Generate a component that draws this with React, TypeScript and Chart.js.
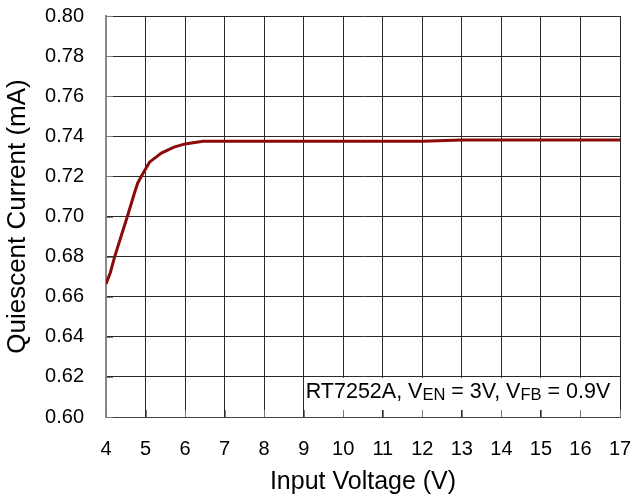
import React, { useEffect, useRef } from "react";
import { Chart, registerables } from "chart.js";

Chart.register(...registerables);

const inputVoltage = [4.0, 4.11, 4.22, 4.37, 4.54, 4.72, 4.8, 4.93, 5.1, 5.4, 5.72, 6.0, 6.45, 7, 8, 9, 10, 11, 12, 13, 14, 15, 16, 17];
const quiescentCurrent = [0.6663, 0.6721, 0.68, 0.6894, 0.7, 0.7117, 0.7166, 0.7213, 0.7271, 0.7316, 0.7346, 0.7362, 0.7375, 0.7375, 0.7375, 0.7375, 0.7375, 0.7375, 0.7375, 0.7381, 0.7381, 0.7381, 0.7381, 0.7381];

const xMin = 4;
const xMax = 17;
const yMin = 0.6;
const yMax = 0.8;
const annotationParts: [string, boolean][] = [
  ["RT7252A, V", false],
  ["EN", true],
  [" = 3V, V", false],
  ["FB", true],
  [" = 0.9V", false],
];

const FONT = "'Liberation Sans', Arial, sans-serif";

const overlayPlugin = {
  id: "overlay",
  beforeDatasetsDraw(chart: any) {
    const { ctx, scales } = chart;
    const xs = scales.x;
    const ys = scales.y;
    ctx.save();
    // white annotation box covering grid
    const bx = xs.getPixelForValue(9) + 1;
    const by = ys.getPixelForValue(0.62) + 1;
    const bx2 = xs.getPixelForValue(17) - 1;
    const by2 = ys.getPixelForValue(0.60) - 7;
    ctx.fillStyle = "#ffffff";
    ctx.fillRect(bx, by, bx2 - bx, by2 - by);
    // inward tick marks
    ctx.strokeStyle = "#7a7a7a";
    ctx.lineWidth = 1;
    ctx.beginPath();
    for (let v = xMin; v <= xMax; v++) {
      const px = Math.round(xs.getPixelForValue(v)) + 0.5;
      ctx.moveTo(px, ys.bottom);
      ctx.lineTo(px, ys.bottom - 7);
    }
    for (let i = 0; i <= 10; i++) {
      const py = Math.round(ys.getPixelForValue(yMin + i * 0.02)) + 0.5;
      ctx.moveTo(xs.left, py);
      ctx.lineTo(xs.left + 7, py);
    }
    ctx.stroke();
    // annotation text
    ctx.fillStyle = "#000";
    ctx.textBaseline = "alphabetic";
    ctx.textAlign = "left";
    let x = bx + 1;
    const base = by + 20.5;
    for (const [t, sub] of annotationParts) {
      ctx.font = sub ? `16.5px ${FONT}` : `21.5px ${FONT}`;
      ctx.fillText(t, x, sub ? base + 1.5 : base);
      x += ctx.measureText(t).width;
    }
    ctx.restore();
  },
};

export default function App() {
  const ref = useRef<HTMLCanvasElement | null>(null);
  useEffect(() => {
    if (!ref.current) return;
    const chart = new Chart(ref.current, {
      type: "line",
      data: {
        datasets: [
          {
            data: inputVoltage.map((v, i) => ({ x: v, y: quiescentCurrent[i] })),
            borderColor: "#8b0a0a",
            borderWidth: 3,
            pointRadius: 0,
            tension: 0,
            fill: false,
          },
        ],
      },
      options: {
        animation: false,
        responsive: false,
        events: [],
        layout: { padding: { left: 0, right: 12, top: 16, bottom: 0 } },
        plugins: { legend: { display: false }, tooltip: { enabled: false } },
        scales: {
          x: {
            type: "linear",
            min: xMin,
            max: xMax,
            afterFit(scale: any) {
              scale.height = 79;
              scale.paddingLeft = 0;
              scale.paddingRight = 0;
              scale.paddingTop = 0;
              scale.paddingBottom = 0;
            },
            ticks: {
              stepSize: 1,
              padding: 20,
              color: "#000",
              font: { family: FONT, size: 20, lineHeight: 1.2 },
            },
            grid: { color: "#2a2a2a", lineWidth: 1, drawTicks: false },
            border: { color: "#444", width: 1 },
            title: {
              display: true,
              text: "Input Voltage (V)",
              color: "#000",
              font: { family: FONT, size: 25, lineHeight: 1.15 },
              padding: { top: 0, bottom: 0 },
            },
          },
          y: {
            type: "linear",
            min: yMin,
            max: yMax,
            afterFit(scale: any) {
              scale.width = 106;
              scale.paddingLeft = 0;
              scale.paddingRight = 0;
              scale.paddingTop = 0;
              scale.paddingBottom = 0;
            },
            ticks: {
              stepSize: 0.02,
              padding: 22,
              color: "#000",
              font: { family: FONT, size: 20, lineHeight: 1.2 },
              callback: (v: any) => Number(v).toFixed(2),
            },
            grid: { color: "#2a2a2a", lineWidth: 1, drawTicks: false },
            border: { color: "#888", width: 2 },
            title: {
              display: true,
              text: "Quiescent Current (mA)",
              color: "#000",
              font: { family: FONT, size: 26, lineHeight: 1.2 },
              padding: { top: 2, bottom: 0 },
            },
          },
        },
      },
      plugins: [overlayPlugin],
    });
    return () => chart.destroy();
  }, []);
  return (
    <div style={{ position: "fixed", left: 0, top: 0, width: 632, height: 496, background: "#fff" }}>
      <canvas ref={ref} width={632} height={496} style={{ display: "block" }} />
    </div>
  );
}
